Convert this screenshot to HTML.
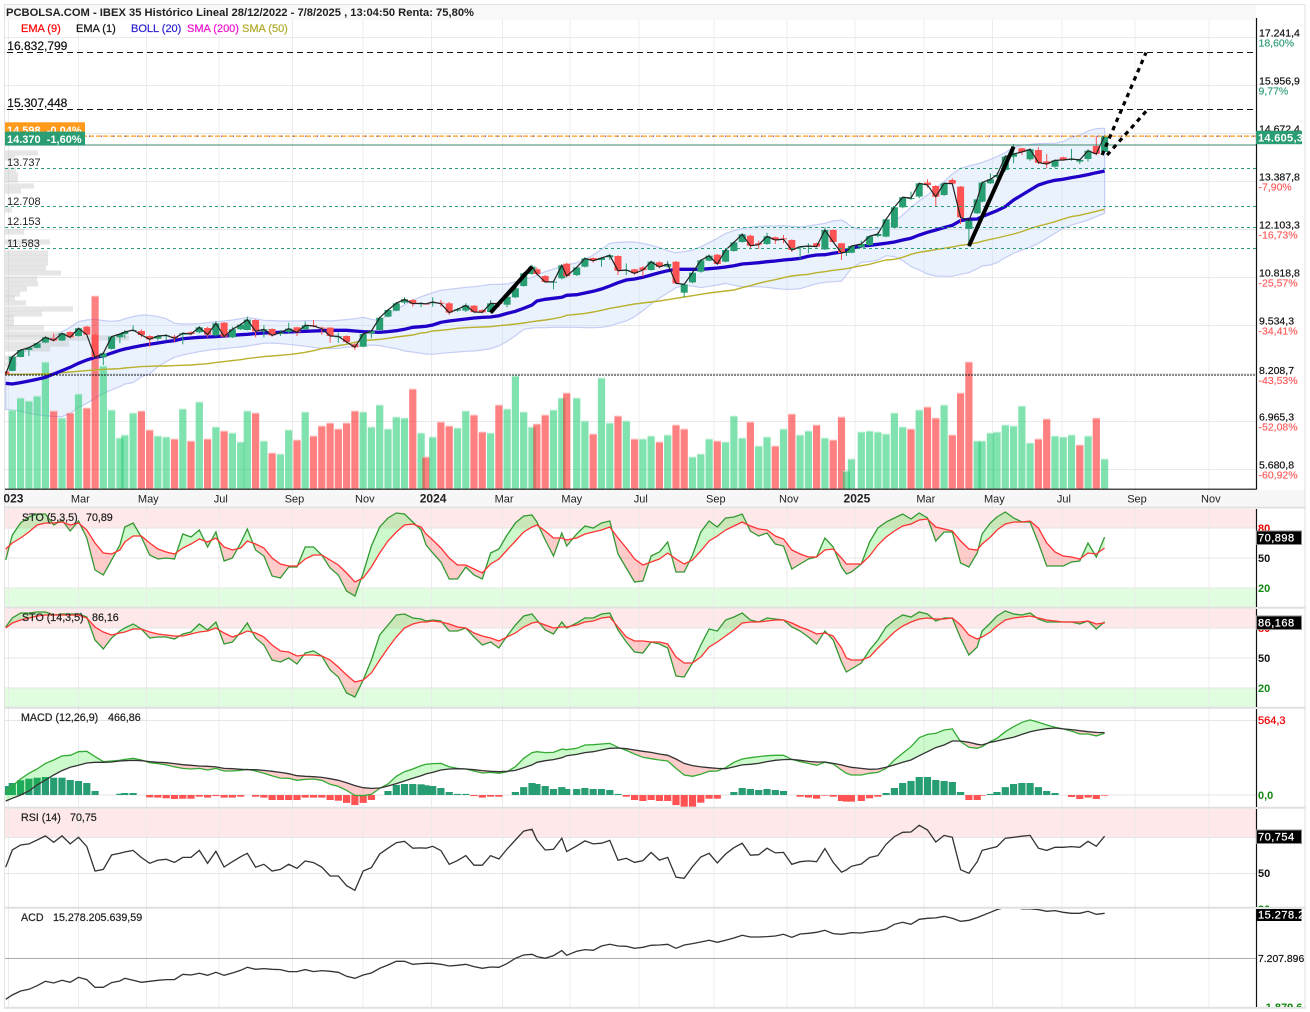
<!DOCTYPE html>
<html lang="es">
<head>
<meta charset="utf-8">
<title>IBEX 35 Histórico Lineal</title>
<style>
html,body{margin:0;padding:0;background:#fff;}
svg{display:block;font-family:"Liberation Sans",Arial,sans-serif;}
text{font-size:11px;fill:#222;white-space:pre;}
.t{stroke:#222;stroke-width:.22px;font-size:10.7px;}
.lv{stroke:#111;stroke-width:.22px;}
.pill{fill:#fff;letter-spacing:.5px;font-weight:normal;stroke:#fff;stroke-width:.25px;}
</style>
</head>
<body>
<svg id="chart" xmlns="http://www.w3.org/2000/svg" width="1310" height="1012" viewBox="0 0 1310 1012">
<defs>
<clipPath id="clip-main"><rect x="5" y="20" width="1251" height="469"/></clipPath>
<clipPath id="clip-sto1"><rect x="5" y="509" width="1251" height="98"/></clipPath>
<clipPath id="clip-sto2"><rect x="5" y="609" width="1251" height="98"/></clipPath>
<clipPath id="clip-macd"><rect x="5" y="709" width="1251" height="98"/></clipPath>
<clipPath id="clip-rsi"><rect x="5" y="809" width="1251" height="98"/></clipPath>
<clipPath id="clip-acd"><rect x="5" y="909" width="1251" height="98"/></clipPath>
<clipPath id="clip-axis-bottom"><rect x="1257" y="898" width="48" height="9"/></clipPath>
<clipPath id="clip-axis-acd"><rect x="1257" y="909" width="45" height="98"/></clipPath>
<clipPath id="clip-pill"><rect x="1256" y="100" width="46" height="900"/></clipPath>
<clipPath id="clip-axis-band"><rect x="4" y="490" width="1301" height="16"/></clipPath>
</defs>

<rect x="0" y="0" width="1310" height="1012" fill="#fff"/>
<rect x="5" y="5" width="1251" height="15" fill="#f9f9f9"/>
<rect x="5" y="490" width="1300" height="16" fill="#f7f7f7"/>

<rect x="5" y="509" width="1251" height="19" fill="#fee8e9"/>
<rect x="5" y="588" width="1251" height="19" fill="#e0fde0"/>
<rect x="5" y="609" width="1251" height="19" fill="#fee8e9"/>
<rect x="5" y="688" width="1251" height="19" fill="#e0fde0"/>
<rect x="5" y="809" width="1251" height="28.5" fill="#fee8e9"/>

<g id="grid-layer" shape-rendering="crispEdges"></g>

<g id="main-layer" clip-path="url(#clip-main)"></g>
<g id="sto1-layer" clip-path="url(#clip-sto1)"></g>
<g id="sto2-layer" clip-path="url(#clip-sto2)"></g>
<g id="macd-layer" clip-path="url(#clip-macd)"></g>
<g id="rsi-layer" clip-path="url(#clip-rsi)"></g>
<g id="acd-layer" clip-path="url(#clip-acd)"></g>

<g id="separators" stroke="#e0e0e0" stroke-width="2">
<line x1="4" y1="507.5" x2="1306" y2="507.5"/>
<line x1="4" y1="607.7" x2="1306" y2="607.7"/>
<line x1="4" y1="707.7" x2="1306" y2="707.7"/>
<line x1="4" y1="807.7" x2="1306" y2="807.7"/>
<line x1="4" y1="907.7" x2="1306" y2="907.7"/>
<line x1="4" y1="1007.7" x2="1306" y2="1007.7"/>
</g>

<g stroke="#111" stroke-width="1.2">
<line x1="5" y1="489.2" x2="1256.5" y2="489.2"/>
<line x1="1256.5" y1="18" x2="1256.5" y2="489.5"/>
<line x1="1256.5" y1="509" x2="1256.5" y2="607"/>
<line x1="1256.5" y1="609" x2="1256.5" y2="707"/>
<line x1="1256.5" y1="709" x2="1256.5" y2="807"/>
<line x1="1256.5" y1="809" x2="1256.5" y2="907"/>
<line x1="1256.5" y1="909" x2="1256.5" y2="1007"/>
</g>
<rect x="4.5" y="4.5" width="1300.5" height="1003" fill="none" stroke="#e2e2e2" stroke-width="1"/>

<text x="6" y="16" textLength="468" lengthAdjust="spacingAndGlyphs" style="font-weight:bold;font-size:11px;fill:#222">PCBOLSA.COM - IBEX 35 Histórico Lineal 28/12/2022 - 7/8/2025 , 13:04:50 Renta: 75,80%</text>
<g stroke-width=".2">
<text x="21" y="32" stroke="#ff0000" style="fill:#ff0000">EMA (9)</text>
<text x="76" y="32" stroke="#111" style="fill:#111">EMA (1)</text>
<text x="131" y="32" stroke="#2a1fd0" style="fill:#2a1fd0">BOLL (20)</text>
<text x="187" y="32" stroke="#ee11cc" style="fill:#ee11cc">SMA (200)</text>
<text x="242" y="32" stroke="#b0aa2a" style="fill:#b0aa2a">SMA (50)</text>
</g>

<g id="axis-layer"></g>

<g>
<text class="lv" x="7.3" y="50" style="font-size:12px;fill:#111">16.832,799</text>
<text class="lv" x="7.3" y="107" style="font-size:12px;fill:#111">15.307,448</text>
<text x="7" y="166" style="fill:#222">13.737</text>
<text x="7" y="205" style="fill:#222">12.708</text>
<text x="7" y="225" style="fill:#222">12.153</text>
<text x="7" y="247" style="fill:#222">11.583</text>
<rect x="5" y="122.3" width="80" height="13" fill="#ff9a1a"/>
<text x="7" y="134" style="fill:#fff;font-weight:bold">14.598  -0,04%</text>
<rect x="5" y="131.6" width="80" height="14" fill="#2a9d72"/>
<text x="7" y="143" style="fill:#fff;font-weight:bold">14.370  -1,60%</text>
<rect x="1256" y="130.7" width="46" height="13.5" fill="#2a9d72"/>
<text x="1258" y="141.6" clip-path="url(#clip-pill)" style="fill:#fff;font-weight:bold;letter-spacing:.3px">14.605,3</text>
</g>

<g>
<text class="t" x="22" y="521">STO (5,3,5)</text>
<text class="t" x="86" y="521">70,89</text>
<text class="t" x="22" y="621">STO (14,3,5)</text>
<text class="t" x="92" y="621">86,16</text>
<text class="t" x="21" y="721">MACD (12,26,9)</text>
<text class="t" x="108" y="721">466,86</text>
<text class="t" x="21" y="821">RSI (14)</text>
<text class="t" x="70" y="821">70,75</text>
<text class="t" x="21" y="921">ACD</text>
<text class="t" x="53" y="921">15.278.205.639,59</text>
</g>

<g style="font-weight:bold">
<text x="1258" y="532" style="fill:#ee0000">80</text>
<text x="1258" y="562" style="fill:#111">50</text>
<text x="1258" y="592" style="fill:#118811">20</text>
<text x="1258" y="632" style="fill:#ee0000">80</text>
<text x="1258" y="662" style="fill:#111">50</text>
<text x="1258" y="692" style="fill:#118811">20</text>
<text x="1258" y="724" style="fill:#ee0000;font-weight:normal;stroke:#ee0000;stroke-width:.25px">564,3</text>
<text x="1258" y="799" style="fill:#118811">0,0</text>
<text x="1258" y="877" style="fill:#111">50</text>
<text x="1258" y="913" clip-path="url(#clip-axis-bottom)" style="fill:#118811">30</text>
<text x="1258" y="962" style="fill:#111;font-size:10.4px;stroke:#111;stroke-width:.2px;font-weight:normal">7.207.896</text>
<text x="1262" y="1011" clip-path="url(#clip-axis-acd)" style="fill:#118811">-1.879.641</text>
<rect x="1256.5" y="531" width="45" height="13.5" fill="#000" stroke="#888"/>
<text class="pill" x="1258" y="541.6">70,898</text>
<rect x="1256.5" y="616" width="45" height="13.5" fill="#000" stroke="#888"/>
<text class="pill" x="1258" y="626.6">86,168</text>
<rect x="1256.5" y="830" width="45" height="13.5" fill="#000" stroke="#888"/>
<text class="pill" x="1258" y="840.6">70,754</text>
<rect x="1256.5" y="909" width="45" height="12" fill="#000"/>
<text class="pill" x="1258" y="918.6" clip-path="url(#clip-pill)">15.278.205</text>
</g>

<script>
// ---------- price data (index points, weekly bars) ----------
const opens = [8295,8312,8687,8874,8928,9070,9186,9124,9356,9249,
9498,9284,8678,8901,9213,9302,9382,9382,9249,9177,
9249,9231,9284,9347,9347,9463,9266,9605,9213,9427,
9409,9677,9373,9436,9302,9356,9480,9427,9534,9472,
9472,9213,9249,9026,8963,9320,9409,9766,9926,10141,
10212,10105,10114,10123,
10140,10122,9926,9926,10060,9944,9890,10140,10086,10283,
10586,10907,11032,10853,10675,10791,11184,10880,11103,11335,
11282,11353,11389,10996,11032,11085,11014,11219,11103,11237,
10407,10684,10969,11264,11424,11237,11523,11763,11933,11728,
11710,11888,11862,11817,11621,11639,11728,11567,12085,11728,
11478,11478,11621,11683,
11924,11907,12148,12692,12924,12977,13352,13263,13022,13423,
13245,12112,12531,12843,13334,13512,13691,14048,14271,13976,
14226,13923,13780,14030,13976,13914,13985,14333,14172];
const closes = [8232,8696,8874,8936,9052,9213,9124,9320,9213,9454,
9284,8678,8785,9231,9302,9356,9409,9275,9159,9249,
9266,9186,9320,9302,9481,9284,9588,9231,9427,9552,
9686,9373,9427,9266,9338,9445,9347,9534,9516,9445,
9249,9240,9088,8945,9302,9382,9739,9944,10123,10230,
10114,10123,10110,10158,
10113,9872,9962,10069,9890,9881,10122,10105,10300,10524,
10925,11103,10907,10693,10700,11139,10853,11085,11326,11264,
11335,11407,10996,11014,10925,11014,11237,11094,11175,10657,
10630,10943,11273,11398,11175,11550,11754,11969,11665,11692,
11915,11817,11835,11550,11639,11657,11640,12085,11763,11469,
11496,11657,11710,11920,
11978,12371,12692,12959,12941,13334,13289,12977,13334,13325,
12424,12335,12906,13352,13441,13557,14048,14119,14172,14244,
13887,13851,13950,13958,13985,13960,14208,14119,14605];
const highs = [8312,8713,8892,8963,9070,9249,9320,9338,9374,9472,
9525,9302,8829,9249,9320,9409,9534,9427,9266,9284,
9302,9275,9347,9374,9516,9498,9641,9623,9498,9588,
9766,9695,9534,9454,9409,9605,9498,9641,9677,9498,
9480,9338,9266,9052,9338,9409,9766,9971,10158,10283,
10239,10150,10125,10283,
10211,10158,9998,10122,10078,9962,10211,10176,10336,10568,
10942,11157,11085,10880,10729,11157,11210,11103,11353,11353,
11353,11442,11407,11192,11050,11121,11264,11246,11264,11255,
10657,10969,11300,11433,11442,11567,11781,11995,11960,11799,
12013,11906,11951,11835,11657,11728,11746,12156,12103,11746,
11532,11674,11799,11924,
12040,12397,12727,12977,13111,13352,13441,13289,13352,13468,
13263,12353,12933,13379,13602,13620,14092,14387,14288,14271,
14297,14119,13976,14048,14253,13994,14244,14601,14627];
const lows = [8214,8303,8678,8713,8919,9052,9097,9115,9186,9231,
9266,8669,8473,8883,9052,9186,9364,9213,8963,9124,
9124,9097,9026,9266,9320,9213,9231,9213,9195,9409,
9400,9213,9213,9231,9249,9320,9249,9409,9480,9284,
9070,9070,9052,8874,8945,9186,9391,9748,9909,10105,
10034,10016,10105,10034,
10033,9810,9899,9890,9872,9854,9872,10015,10015,10265,
10568,10889,10871,10675,10497,10764,10818,10853,11085,11210,
11103,11282,10880,10880,10880,10836,10996,11059,11085,10639,
10283,10657,10943,11246,11157,11219,11505,11746,11567,11576,
11692,11710,11728,11496,11300,11460,11621,11550,11746,11282,
11389,11460,11594,11656,
11889,11889,12121,12665,12888,12933,13218,12710,12995,13316,
12246,11639,12513,12817,13316,13468,13646,13869,14092,13940,
13851,13735,13753,13940,13940,13851,13914,14083,14155];
const bollMid = [7982,7964,8000,8044,8089,8143,8232,8321,8410,8517,
8606,8678,8713,8794,8865,8901,8945,8990,9026,9061,
9097,9124,9177,9195,9213,9222,9231,9249,9266,9284,
9293,9311,9329,9338,9347,9356,9365,9374,9382,9391,
9400,9400,9400,9382,9365,9356,9347,9365,9391,9427,
9481,9498,9507,9543,
9614,9649,9676,9703,9730,9747,9756,9792,9854,9908,
9988,10077,10184,10229,10256,10283,10336,10354,10399,10443,
10506,10586,10675,10746,10773,10818,10880,10943,10996,11032,
11032,11032,11032,11050,11068,11094,11130,11175,11192,11210,
11237,11255,11282,11300,11326,11380,11415,11424,11460,11496,
11550,11594,11656,11675,
11702,11728,11764,11818,11862,11951,12023,12085,12148,12210,
12335,12371,12380,12442,12531,12603,12710,12888,13022,13156,
13289,13361,13414,13441,13486,13521,13566,13619,13664];
const bollUpper = [8250,8606,8785,8919,9008,9124,9231,9365,9481,9632,
9677,9695,9659,9641,9659,9712,9766,9811,9802,9766,
9712,9588,9570,9570,9579,9605,9632,9650,9677,9712,
9748,9712,9668,9659,9650,9650,9650,9659,9659,9659,
9650,9668,9686,9712,9748,9695,9659,9811,9962,10078,
10212,10301,10346,10408,
10470,10497,10523,10550,10568,10595,10630,10630,10639,10702,
10764,10818,10880,10969,11041,11121,11148,11210,11299,11415,
11567,11728,11754,11763,11763,11728,11674,11612,11531,11478,
11505,11549,11638,11745,11861,11995,12067,12129,12156,12183,
12191,12191,12200,12183,12165,12191,12227,12263,12325,12352,
12281,12174,12102,12085,
12130,12192,12308,12487,12692,12870,13022,13200,13379,13584,
13735,13798,13851,13887,13976,14048,14155,14297,14351,14378,
14396,14404,14404,14449,14565,14627,14734,14797,14806];
const bollLower = [7286,7268,7233,7179,7143,7117,7090,7090,7179,7340,
7447,7581,7714,7804,7893,7964,8000,8160,8232,8428,
8562,8678,8740,8785,8829,8865,8892,8910,8936,8954,
8981,9017,9052,9061,9043,9026,8999,8972,8945,8919,
8910,8919,8945,8963,8981,9008,8990,8945,8910,8847,
8820,8785,8767,8758,
8784,8802,8820,8838,8847,8873,8909,8980,9105,9257,
9426,9462,9471,9471,9480,9480,9480,9480,9471,9471,
9480,9515,9587,9649,9765,9926,10104,10256,10407,10541,
10604,10586,10541,10577,10613,10657,10604,10568,10568,10568,
10550,10523,10497,10497,10514,10586,10648,10684,10702,10720,
10880,11059,11219,11237,
11282,11398,11372,11265,11104,11015,10908,10854,10845,10845,
10899,10943,11050,11122,11149,11211,11345,11461,11550,11621,
11728,11862,11996,12130,12219,12281,12353,12442,12531];
const sma50 = [8223,8223,8223,8223,8232,8232,8250,8267,8285,8303,
8321,8339,8357,8366,8374,8392,8410,8428,8437,8446,
8446,8455,8464,8473,8490,8508,8535,8562,8589,8615,
8642,8669,8696,8713,8731,8749,8776,8812,8856,8910,
8945,8990,9026,9079,9124,9142,9159,9186,9222,9249,
9275,9329,9338,9382,
9400,9426,9453,9471,9480,9489,9498,9524,9542,9569,
9596,9631,9649,9676,9712,9756,9801,9828,9854,9890,
9935,9988,10024,10068,10104,10131,10158,10184,10220,10256,
10291,10327,10363,10399,10425,10452,10479,10541,10595,10657,
10711,10755,10809,10853,10880,10898,10943,10969,11005,11032,
11050,11076,11130,11166,
11229,11282,11300,11354,11434,11488,11523,11559,11595,11630,
11675,11702,11746,11782,11835,11871,11925,11978,12041,12121,
12192,12246,12308,12380,12442,12478,12531,12585,12638];
// weekly volume (relative units)
const volumes = [0,79,91,88,93,127,78,71,76,95,
81,193,123,79,51,54,76,78,59,53,
52,50,80,48,87,50,62,58,56,47,
78,76,48,36,35,59,49,77,53,63,
66,60,66,78,77,62,84,60,72,71,
100,56,32,52,
67,63,61,78,74,57,56,84,80,113,
77,62,65,74,79,91,96,91,68,55,
111,66,73,68,50,50,53,47,54,64,
60,32,35,50,48,47,73,51,67,43,
52,43,60,75,54,58,64,51,49,72,
18,30,57,58,
57,55,76,62,60,79,82,71,84,54,
96,127,48,48,56,57,64,63,83,46,
50,70,53,52,54,44,53,71,30];
// volume at price
const profilePrices = [14146,14012,13691,13557,13423,13263,13129,12620,12032,11764,11470,11336,11202,11068,10934,10774,10640,10506,10372,10265,10132,9971,9837,9730,9596,9462,9302,9195,9034,8901,8660,8500];
const profileVolumes = [33,10,11,13,13,29,16,7,19,45,43,43,43,41,56,32,33,22,15,10,21,68,37,9,9,39,55,124,64,45,12,12];
// ---------- indicators ----------
const sto5K = [48,73,85,91,94,94,83,88,77,87,70,38,33,48,63,81,85,71,53,49,50,49,74,71,78,61,76,47,50,65,79,58,52,32,30,41,41,61,61,53,40,33,17,12,35,62,81,90,95,94,86,78,63,55,
46,29,29,41,33,29,55,59,73,85,92,93,86,68,52,75,62,74,82,80,85,87,54,40,26,27,52,56,66,36,36,53,76,87,81,90,91,94,77,72,75,64,62,39,44,49,51,70,61,41,34,36,44,66,
80,86,90,94,89,95,90,67,76,76,45,41,55,74,85,91,96,90,86,86,65,42,42,42,46,47,65,51,70.89];
const sto5D = [59,65,70,76,83,85,85,86,83,85,78,65,55,54,58,66,72,72,65,59,56,54,60,64,69,66,70,61,58,60,67,64,60,50,44,42,42,49,53,53,48,43,35,26,30,41,55,67,76,83,84,81,74,68,
60,50,43,43,39,35,44,49,58,67,76,81,83,77,70,70,68,70,74,76,78,81,70,60,49,43,46,49,55,49,44,48,57,67,72,78,82,86,82,79,78,72,69,58,54,51,51,58,59,50,44,44,44,52,
63,71,77,82,84,88,89,81,79,77,67,59,58,64,71,78,84,86,86,87,80,65,56,52,51,49,55,54,60];
const sto14K = [81,90,95,95,96,96,93,94,94,94,91,68,59,70,77,80,84,79,70,71,71,69,74,76,84,78,86,64,66,76,85,70,63,48,46,50,44,55,57,52,38,31,15,11,28,48,73,83,93,94,90,89,87,88,
87,77,77,80,71,63,66,60,72,83,92,94,88,78,74,86,80,85,90,90,94,95,78,66,56,55,66,64,60,32,31,45,63,79,77,88,91,95,88,86,90,89,88,81,77,71,64,77,68,46,36,39,45,58,
68,81,88,93,91,96,94,87,90,90,70,53,61,77,85,92,97,94,93,95,89,86,86,86,86,84,87,79,86.16];
const sto14D = [80,85,88,90,92,93,93,93,93,93,90,81,76,73,75,76,79,79,76,74,73,72,72,74,76,77,80,75,71,74,77,75,71,63,57,56,52,53,53,52,48,41,33,26,28,35,48,60,71,80,84,86,86,87,
86,84,81,80,75,72,70,67,71,75,81,85,86,83,80,81,81,83,86,87,90,91,81,71,67,67,66,66,64,51,45,45,51,61,66,72,78,85,86,86,87,88,88,85,81,78,74,75,72,60,50,48,48,51,
60,68,76,82,86,89,90,89,89,90,83,73,69,71,76,82,88,90,91,92,90,88,87,86,86,86,87,84,85];
const macdLine = [20,68,121,164,196,239,264,295,300,327,330,290,252,257,262,269,277,264,244,237,227,212,201,196,201,189,201,181,181,186,194,181,164,144,128,126,111,118,121,111,81,65,35,-3,-5,5,50,83,141,176,196,222,232,237,
239,214,201,196,181,166,171,164,176,214,277,320,327,320,322,347,342,353,378,380,385,390,360,337,310,285,274,264,257,201,151,141,156,179,181,206,247,272,282,290,297,300,300,269,252,239,224,247,234,189,164,151,151,164,
171,201,264,315,365,433,458,466,491,499,403,360,353,365,403,428,478,516,549,567,549,529,511,499,483,461,461,446,466.86];
const macdSignal = [-45,-25,0,30,76,113,151,184,209,224,242,247,247,249,257,259,262,259,252,247,244,237,229,224,219,217,212,201,199,194,191,191,186,179,171,161,146,141,138,133,123,111,93,71,55,50,53,68,86,106,126,146,159,171,
189,196,199,196,191,184,179,176,179,186,206,227,247,259,267,282,297,307,320,327,340,353,355,350,340,330,322,310,300,272,239,222,212,206,201,199,212,227,232,239,252,262,267,269,262,254,249,249,239,227,217,209,201,194,
196,209,227,247,264,297,327,358,378,408,408,398,383,378,398,408,423,436,458,478,491,501,506,499,494,486,478,473,471];
const macdHist = [68,91,111,123,131,136,131,131,113,106,91,30,0,0,10,15,15,0,-18,-20,-25,-30,-28,-28,-13,-20,-8,-20,-20,-13,0,-13,-20,-38,-38,-38,-38,-20,-20,-20,-38,-43,-60,-76,-60,-38,0,30,76,83,83,81,73,68,
53,23,8,8,-8,-20,-13,-13,0,23,60,91,83,68,45,60,45,45,53,45,45,38,8,-13,-38,-45,-38,-45,-45,-76,-88,-88,-58,-28,-28,0,23,53,45,38,45,38,30,0,-13,-20,-28,-5,-13,-45,-50,-50,-45,-25,
-13,15,53,91,106,136,136,113,106,98,23,-38,-38,-5,8,23,60,83,91,91,60,30,15,0,-15,-30,-20,-30,-5];
const rsiValues = [53.4,63,65.8,66.4,68.6,70.9,67.3,70.9,66.4,70.1,64.9,51.3,52.2,60.2,61.2,61.9,62.8,58.8,55.6,57.4,57.8,56.1,58.9,58.9,62.8,55.6,62.3,53.5,56.5,59.3,61.2,53.4,55,51.3,52.2,55,52.8,56.9,56,53.4,48.5,48.5,43.1,40.5,51.3,53.2,60.8,64,67.1,67.9,64,64.2,64,65.1,
62.7,55,57.1,59.9,54.5,54.5,59.9,58,63.6,68.6,73.6,74.6,68.6,63,63.4,69.6,62.1,65.3,68.1,66.4,66.8,68.4,57.3,58.4,56.1,57.1,61.7,57.4,58.9,47.8,47.2,53.7,59.1,61.2,55.8,60.8,64.3,66.8,60.1,60.4,64,61.4,61.7,55,56.5,56.9,56.5,63.8,56.1,50.6,51.9,53.9,55.2,58.8,
59.9,66.2,70.5,72.9,73.1,76.8,74.2,67.5,71.2,70.1,52,50,56.5,62.8,64,64.9,69.6,70.1,70.7,71.2,64,62.8,64.5,64.5,64.9,64.5,67.9,65.1,70.75];
// ACD in millions
const acdValues = [-147,630,1348,1647,2304,3082,2783,3261,2902,3799,3381,2005,2005,2843,3142,3620,3261,2902,3082,3261,3381,3381,4338,4218,4517,4158,4696,4158,4577,5055,5593,5235,5354,5235,5175,4816,4816,5175,4816,4995,4876,4696,3979,3620,4218,4577,5414,6012,6670,6670,6132,6251,6311,6311,
6132,5833,5952,6132,5713,5414,5653,5593,6251,7208,7806,7926,7507,7208,7686,8583,7746,8464,8763,8643,9421,9720,9421,9361,9002,9181,9540,9600,9720,9002,9600,9839,10138,10437,10078,10437,10856,11334,11035,11035,11095,11215,11514,10975,11573,11693,11872,12231,11633,11514,11633,11813,11753,11992,
12112,12470,13308,13666,13308,14205,14384,14444,14743,14384,13846,14025,14504,14862,15460,15939,16357,16477,16058,16058,15939,15640,15759,15460,15281,15281,15640,15102,15278];
// ---------- axis data ----------
const priceTicks = [17241.4,15956.9,14672.4,13387.8,12103.3,10818.8,9534.3,8249.8,6965.3,5680.8];
const priceTickLabels = ["17.241,4","15.956,9","14.672,4","13.387,8","12.103,3","10.818,8","9.534,3","8.208,7","6.965,3","5.680,8"];
const priceTickPercents = ["18,60%","9,77%","","-7,90%","-16,73%","-25,57%","-34,41%","-43,53%","-52,08%","-60,92%"];
const monthBars = [0.4,9,17.62,26.38,35.48,43.98,52.8,61.42,70.33,78.54,87.6,96.42,105.37,113.58,122.33,130.86,139.7,148.62];
const monthLabels = ["2023","Mar","May","Jul","Sep","Nov","2024","Mar","May","Jul","Sep","Nov","2025","Mar","May","Jul","Sep","Nov"];
// trading sessions per week that differ from the usual five (holiday weeks)
const holidayWeekBars = [1,15,30,52,53,66,70,71,104,105,106,121,123];
const holidayWeekSessions = [4,3,4,3,4,3,3,6,3,3,6,3,4];
// horizontal levels
const blackLevels = [16832.799,15307.448];
const greenLevels = [13737,12708,12153,11583];
const emaFastLevel = 14598;
const emaOneLevel = 14370;
const lowLevel = 8208.7;
// trend drawings: [bar, price, bar, price]
const solidTrends = [[60,9872,65,11103],[119,11657,125,14314]];
const dottedTrends = [[135.7,14092,141,16832],[136.3,14092,141.2,15307]];

// ---------- scales ----------
const barCount = closes.length;
const sessionPx = 1.655;
const cumSessions = [0];
for (let i = 1; i < barCount; i++) {
  const h = holidayWeekBars.indexOf(i);
  cumSessions[i] = cumSessions[i - 1] + (h >= 0 ? holidayWeekSessions[h] : 5);
}
function xBar(i) {
  if (i >= barCount - 1) return 12.3 + (cumSessions[barCount - 1] - cumSessions[1] + (i - (barCount - 1)) * 5) * sessionPx;
  const f = Math.floor(i), t = i - f;
  const s = cumSessions[f] + (cumSessions[f + 1] - cumSessions[f]) * t;
  return 12.3 + (s - cumSessions[1]) * sessionPx;
}
const yPrice = v => 37.3 + (17241.4 - v) * 48 / 1284.5;
const yVolume = v => 488.8 - v;
const ySto1 = v => 608 - v;
const ySto2 = v => 708 - v;
const yMacd = v => 795 - v * 0.1324;
const yRsi = v => 873.3 - (v - 50) * 1.79;
const yAcd = v => 958.3 - (v - 7208) / 179.3;

const NS = 'http://www.w3.org/2000/svg';
function mk(parent, tag, attrs, text) {
  const e = document.createElementNS(NS, tag);
  for (const k in attrs) e.setAttribute(k, attrs[k]);
  if (text !== undefined) e.textContent = text;
  parent.appendChild(e);
  return e;
}
const fx = n => n.toFixed(1);
function linePath(data, yf) {
  return data.map((v, i) => (i ? 'L' : 'M') + fx(xBar(i)) + ' ' + fx(yf(v))).join('');
}
function betweenPaths(a, b, yf) {
  let up = '', down = '';
  const quad = (x0, y0a, y0b, x1, y1a, y1b) => 'M' + fx(x0) + ' ' + fx(y0a) + 'L' + fx(x1) + ' ' + fx(y1a) + 'L' + fx(x1) + ' ' + fx(y1b) + 'L' + fx(x0) + ' ' + fx(y0b) + 'Z';
  for (let i = 0; i < a.length - 1; i++) {
    const d0 = a[i] - b[i], d1 = a[i + 1] - b[i + 1];
    const x0 = xBar(i), x1 = xBar(i + 1);
    const ya0 = yf(a[i]), yb0 = yf(b[i]), ya1 = yf(a[i + 1]), yb1 = yf(b[i + 1]);
    if (d0 >= 0 && d1 >= 0) up += quad(x0, ya0, yb0, x1, ya1, yb1);
    else if (d0 <= 0 && d1 <= 0) down += quad(x0, ya0, yb0, x1, ya1, yb1);
    else {
      const t = d0 / (d0 - d1), xc = x0 + (x1 - x0) * t, yc = ya0 + (ya1 - ya0) * t;
      const first = quad(x0, ya0, yb0, xc, yc, yc), second = quad(xc, yc, yc, x1, ya1, yb1);
      if (d0 > 0) { up += first; down += second; } else { down += first; up += second; }
    }
  }
  return [up, down];
}

// ---------- grid ----------
const gridLayer = document.getElementById('grid-layer');
monthBars.forEach((b) => {
  const ln = mk(gridLayer, 'line', {x1: fx(xBar(b)), x2: fx(xBar(b)), y1: 20, y2: 1007, stroke: '#ececec', 'stroke-width': 1});
  
  
});
priceTicks.forEach((p) => {
  const ln = mk(gridLayer, 'line', {x1: 5, x2: 1256, y1: fx(yPrice(p)), y2: fx(yPrice(p)), stroke: '#e9e9e9', 'stroke-width': 1});
  
  
});
const panelGridValues = [[ySto1, 80], [ySto1, 50], [ySto1, 20], [ySto2, 80], [ySto2, 50], [ySto2, 20], [yMacd, 564.3], [yMacd, 0], [yRsi, 70], [yRsi, 50]];
panelGridValues.forEach((g) => {
  const ln = mk(gridLayer, 'line', {x1: 5, x2: 1256, y1: fx(g[0](g[1])), y2: fx(g[0](g[1])), stroke: '#e6e6e6', 'stroke-width': 1});
  
  
});
const acdGrid = mk(gridLayer, 'line', {x1: 5, x2: 1256, y1: fx(yAcd(7208)), y2: fx(yAcd(7208)), stroke: '#aaa', 'stroke-width': 1});



// ---------- main panel ----------
const main = document.getElementById('main-layer');
const bandD = linePath(bollUpper, yPrice) + bollLower.map((v, i) => [i, v]).reverse().map(p => 'L' + fx(xBar(p[0])) + ' ' + fx(yPrice(p[1]))).join('') + 'Z';
const band = mk(main, 'path', {d: bandD, fill: 'rgba(190,215,250,.32)', stroke: '#c5cdf5', 'stroke-width': 1.2});



profilePrices.forEach((p, i) => {
  const r = mk(main, 'rect', {x: 5, y: fx(yPrice(p) - 2.6), width: profileVolumes[i], height: 5.2, fill: 'rgba(190,190,190,.38)'});
  
  
});

volumes.forEach((v, i) => {
  if (!v) return;
  const up = i === 0 || closes[i] >= closes[i - 1];
  const r = mk(main, 'rect', {x: fx(xBar(i) - 3.6), y: fx(yVolume(v)), width: 7.2, height: fx(v), fill: up ? 'rgba(43,207,120,.6)' : 'rgba(255,43,43,.6)'});
  
  
  const cap = mk(main, 'rect', {x: fx(xBar(i) - 3.6), y: fx(yVolume(v)), width: 7.2, height: 1.2, fill: 'rgba(255,255,255,.35)'});
  
  
});

const smaLine = mk(main, 'path', {d: linePath(sma50, yPrice), fill: 'none', stroke: '#b9b12e', 'stroke-width': 1.4});


const midLine = mk(main, 'path', {d: linePath(bollMid, yPrice), fill: 'none', stroke: '#2000c8', 'stroke-width': 3.3});



closes.forEach((c, i) => {
  const up = c >= opens[i];
  const col = up ? '#279d72' : '#ff5252';
  const w = mk(main, 'line', {x1: fx(xBar(i)), x2: fx(xBar(i)), y1: fx(yPrice(highs[i])), y2: fx(yPrice(lows[i])), stroke: col, 'stroke-width': 1});
  
  
  const top = yPrice(Math.max(c, opens[i])), bot = yPrice(Math.min(c, opens[i]));
  const r = mk(main, 'rect', {x: fx(xBar(i) - 3.5), y: fx(top), width: 7, height: fx(Math.max(bot - top, 1)), fill: col});
  
  
});
const closeLine = mk(main, 'path', {d: linePath(closes, yPrice), fill: 'none', stroke: '#222', 'stroke-width': 1.2});



blackLevels.forEach((p) => {
  const ln = mk(main, 'line', {x1: 7, x2: 1256, y1: fx(yPrice(p)), y2: fx(yPrice(p)), stroke: '#111', 'stroke-width': 1, 'stroke-dasharray': '6 4', 'shape-rendering': 'crispEdges'});
  
  
});
greenLevels.forEach((p) => {
  const ln = mk(main, 'line', {x1: 5, x2: 1256, y1: fx(yPrice(p)), y2: fx(yPrice(p)), stroke: '#2a9d72', 'stroke-width': 1, 'stroke-dasharray': '3 3', 'shape-rendering': 'crispEdges'});
  
  
});
const emaOne = mk(main, 'line', {x1: 5, x2: 1256, y1: fx(yPrice(emaOneLevel) + 0.4), y2: fx(yPrice(emaOneLevel) + 0.4), stroke: '#3a8a70', 'stroke-width': 1, 'shape-rendering': 'crispEdges'});


const emaFast = mk(main, 'line', {x1: 5, x2: 1256, y1: fx(yPrice(emaFastLevel)), y2: fx(yPrice(emaFastLevel)), stroke: '#ff9a1a', 'stroke-width': 1.2, 'stroke-dasharray': '5 2'});


const emaDots = mk(main, 'line', {x1: 5, x2: 1256, y1: fx(yPrice(emaFastLevel)), y2: fx(yPrice(emaFastLevel)), stroke: '#2a1fd0', 'stroke-width': 1, 'stroke-dasharray': '1 11'});


const lowLine = mk(main, 'line', {x1: 5, x2: 1256, y1: fx(yPrice(lowLevel)), y2: fx(yPrice(lowLevel)), stroke: '#111', 'stroke-width': 1, 'stroke-dasharray': '2 1', 'shape-rendering': 'crispEdges'});



solidTrends.forEach((t) => {
  const ln = mk(main, 'line', {x1: fx(xBar(t[0])), y1: fx(yPrice(t[1])), x2: fx(xBar(t[2])), y2: fx(yPrice(t[3])), stroke: '#000', 'stroke-width': 4});
  
  
});
dottedTrends.forEach((t) => {
  const ln = mk(main, 'line', {x1: fx(xBar(t[0])), y1: fx(yPrice(t[1])), x2: fx(xBar(t[2])), y2: fx(yPrice(t[3])), stroke: '#000', 'stroke-width': 3.2, 'stroke-dasharray': '4.5 4.5'});
  
  
});

// ---------- axis labels ----------
const axisLayer = document.getElementById('axis-layer');
priceTickLabels.forEach((label, i) => {
  const y = yPrice(priceTicks[i]);
  const off = label === '8.208,7' ? -3.5 : -5;
  const t = mk(axisLayer, 'text', {x: 1259, y: fx(y + off + 4), style: 'fill:#111;font-size:10.5px;stroke:#111;stroke-width:.2px'}, label);
  
  
  if (priceTickPercents[i]) {
    const pctCol = priceTickPercents[i][0] === '-' ? '#ff5a5a' : '#2a9d72';
    const pct = mk(axisLayer, 'text', {x: 1258.5, y: fx(y + off + 14), style: 'font-size:10.5px;fill:' + pctCol + ';stroke:' + pctCol + ';stroke-width:.15px'}, priceTickPercents[i]);
    
    
  }
});
monthLabels.forEach((label, i) => {
  const year = /^\d/.test(label);
  const t = mk(axisLayer, 'text', {x: fx(xBar(monthBars[i]) + 1.8), y: 502.5, 'text-anchor': 'middle', 'clip-path': 'url(#clip-axis-band)', style: 'fill:#222;' + (year ? 'font-weight:bold;font-size:12px' : '')}, label);
  
  
});

// ---------- oscillators ----------
function drawOsc(layerId, kData, dData, yf, kColor, dColor, prefix) {
  const layer = document.getElementById(layerId);
  const parts = betweenPaths(kData, dData, yf);
  const g = mk(layer, 'path', {d: parts[0], fill: 'rgba(0,230,0,.2)'});
  
  
  const r = mk(layer, 'path', {d: parts[1], fill: 'rgba(255,0,0,.2)'});
  
  
  const k = mk(layer, 'path', {d: linePath(kData, yf), fill: 'none', stroke: kColor, 'stroke-width': 1.3});
  
  
  const d = mk(layer, 'path', {d: linePath(dData, yf), fill: 'none', stroke: dColor, 'stroke-width': 1.3});
  
  
  return layer;
}
drawOsc('sto1-layer', sto5K, sto5D, ySto1, '#339933', '#ff3333', 'sto-fast');
drawOsc('sto2-layer', sto14K, sto14D, ySto2, '#339933', '#ff3333', 'sto-slow');
const macdLayer = document.getElementById('macd-layer');
macdHist.forEach((v, i) => {
  if (v === 0) return;
  const top = Math.min(yMacd(v), yMacd(0));
  const r = mk(macdLayer, 'rect', {x: fx(xBar(i) - 3.6), y: fx(top), width: 7.2, height: fx(Math.abs(v) * 0.1324), fill: v > 0 ? '#279d72' : '#ff5252'});
  
  
});
drawOsc('macd-layer', macdLine, macdSignal, yMacd, '#33aa33', '#333', 'macd');

const rsiLine = mk(document.getElementById('rsi-layer'), 'path', {d: linePath(rsiValues, yRsi), fill: 'none', stroke: '#333', 'stroke-width': 1.3});


const acdLine = mk(document.getElementById('acd-layer'), 'path', {d: linePath(acdValues, yAcd), fill: 'none', stroke: '#333', 'stroke-width': 1.3});


</script>
</svg>
</body>
</html>
